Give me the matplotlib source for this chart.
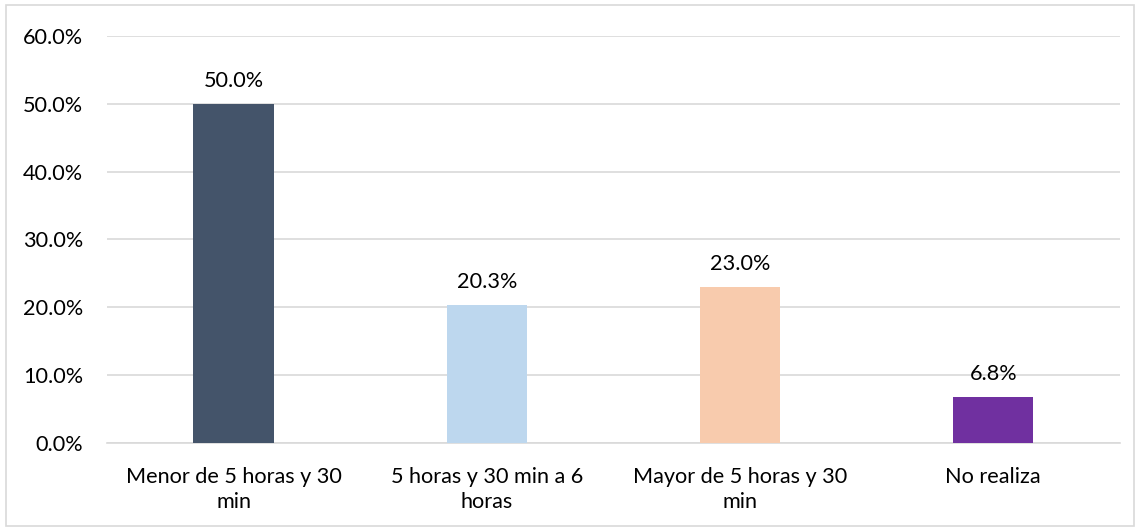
import matplotlib
matplotlib.use('Agg')
import matplotlib.pyplot as plt
from matplotlib.ticker import PercentFormatter, MultipleLocator
from matplotlib.patches import Rectangle

categories = ['Menor de 5 horas y 30\nmin', '5 horas y 30 min a 6\nhoras',
              'Mayor de 5 horas y 30\nmin', 'No realiza']
values = [50.0, 20.3, 23.0, 6.8]
colors = ['#44546A', '#BDD7EE', '#F8CBAD', '#7030A0']

plt.rcParams['font.family'] = ['Lato', 'DejaVu Sans']
FS = 15.6

fig = plt.figure(figsize=(11.37, 5.28), dpi=100)
ax = fig.add_axes([0.094, 0.161, 0.891, 0.771])

x = range(len(categories))
bars = ax.bar(x, values, width=0.316, color=colors, zorder=3)
for b, v in zip(bars, values):
    ax.text(b.get_x() + b.get_width() / 2, v + 1.9, f'{v:.1f}%',
            ha='center', va='bottom', fontsize=FS, color='#000000')

ax.set_xlim(-0.5, len(categories) - 0.5)
ax.set_ylim(0, 60)
ax.yaxis.set_major_locator(MultipleLocator(10))
ax.yaxis.set_major_formatter(PercentFormatter(decimals=1))
ax.set_xticks(list(x))
ax.set_xticklabels(categories, fontsize=FS, linespacing=1.35)
ax.tick_params(axis='y', labelsize=FS, length=0, pad=17)
ax.tick_params(axis='x', length=0, pad=17)
ax.grid(axis='y', color='#D9D9D9', linewidth=1.2, zorder=0)
for s in ['top', 'right', 'left']:
    ax.spines[s].set_visible(False)
ax.spines['bottom'].set_color('#D9D9D9')
ax.spines['bottom'].set_linewidth(1.2)

fig.patches.append(Rectangle((0.005, 0.004), 0.992, 0.986, transform=fig.transFigure,
                             fill=False, edgecolor='#D9D9D9', linewidth=1.2))

fig.savefig('out.png', dpi=100)
